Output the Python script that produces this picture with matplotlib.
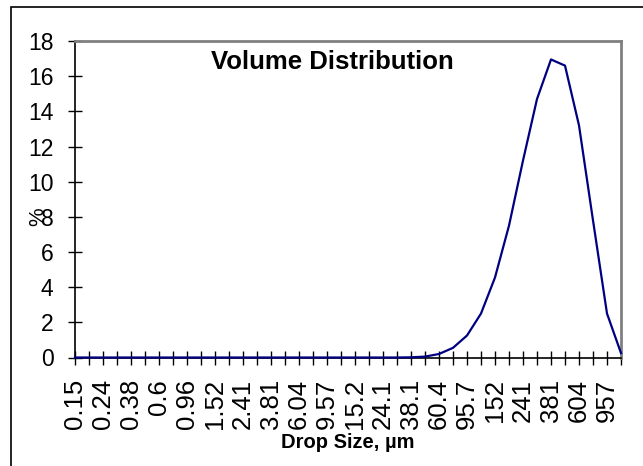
import matplotlib
matplotlib.use('Agg')
import matplotlib.pyplot as plt
from matplotlib.patches import Rectangle

plt.rcParams['font.family'] = ['Liberation Sans', 'DejaVu Sans']

# drop size classes (um), log spaced
sizes = ['0.15', '0.19', '0.24', '0.3', '0.38', '0.48', '0.6', '0.76', '0.96', '1.21',
         '1.52', '1.91', '2.41', '3.03', '3.81', '4.8', '6.04', '7.6', '9.57', '12.1',
         '15.2', '19.1', '24.1', '30.3', '38.1', '48', '60.4', '76', '95.7', '120',
         '152', '191', '241', '303', '381', '479', '604', '760', '957', '1205']
# volume %
volume = [0, 0, 0, 0, 0, 0, 0, 0, 0, 0,
          0, 0, 0, 0, 0, 0, 0, 0, 0, 0,
          0, 0, 0, 0, 0.01, 0.05, 0.2, 0.55, 1.25, 2.5,
          4.55, 7.5, 11.2, 14.7, 16.95, 16.6, 13.2, 7.8, 2.5, 0.25]
yticks = [0, 2, 4, 6, 8, 10, 12, 14, 16, 18]

W, H = 643, 466
fig = plt.figure(figsize=(W/100, H/100), dpi=100)
# chart area border (runs off right/bottom)
fig.patches.append(Rectangle((11/W, -0.1), 1.2, 1 - 7/H + 0.1, transform=fig.transFigure,
                             fill=False, edgecolor='black', linewidth=1.2))

ax = fig.add_axes([75/W, 1 - 357.5/H, (621 - 75)/W, (357.5 - 41)/H])
x = list(range(len(sizes)))
ax.plot(x, volume, color='#000080', linewidth=1.6, clip_on=False, zorder=5)

ax.set_xlim(0, len(sizes) - 1)
ax.set_ylim(0, 18)
ax.set_yticks(yticks)
ax.set_yticklabels([str(v) for v in yticks], fontsize=16.5)
ax.set_xticks(x)
ax.set_xticklabels([s if i % 2 == 0 else '' for i, s in enumerate(sizes)],
                   rotation=90, fontsize=18.5)
ax.tick_params(axis='both', direction='inout', length=10, width=1, color='black')
ax.tick_params(axis='y', pad=10.5)
ax.tick_params(axis='x', pad=10.5)

for s in ['top', 'right']:
    ax.spines[s].set_color('#808080')
    ax.spines[s].set_linewidth(2)
for s in ['left', 'bottom']:
    ax.spines[s].set_color('black')
    ax.spines[s].set_linewidth(1.2)

ax.text(332/W, 1 - 62/H, 'Volume Distribution', transform=fig.transFigure,
        ha='center', va='center', fontsize=18.5, fontweight='bold')
fig.text(348/W, 1 - 442/H, 'Drop Size, µm', ha='center', va='center',
         fontsize=14.5, fontweight='bold')
fig.text(37.5/W, 1 - 217/H, '%', ha='center', va='center', rotation=90, fontsize=15)

fig.savefig('out.png', dpi=100)
